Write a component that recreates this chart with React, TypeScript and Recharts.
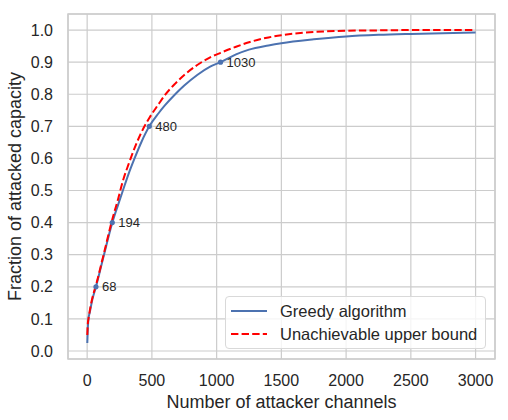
import {
  ComposedChart,
  Line,
  Scatter,
  XAxis,
  YAxis,
  CartesianGrid,
  ReferenceArea,
  Label,
} from 'recharts';

const channels = [1, 5, 10, 20, 40, 68, 130, 194, 240, 276, 320, 366, 420, 480, 550, 600, 680, 750, 850, 950, 1030, 1150, 1250, 1400, 1500, 1750, 2000, 2250, 2500, 3000];
const greedy = [0.025, 0.07, 0.1, 0.12, 0.16, 0.2, 0.3, 0.4, 0.457, 0.5, 0.552, 0.6, 0.652, 0.7, 0.74, 0.765, 0.8, 0.827, 0.86, 0.886, 0.9, 0.924, 0.939, 0.952, 0.959, 0.971, 0.98, 0.985, 0.988, 0.992];
const upperBound = [0.05, 0.085, 0.1, 0.125, 0.165, 0.205, 0.305, 0.41, 0.475, 0.53, 0.582, 0.632, 0.682, 0.726, 0.768, 0.797, 0.833, 0.86, 0.891, 0.915, 0.929, 0.948, 0.962, 0.977, 0.984, 0.994, 0.998, 0.999, 1.0, 1.0];

// annotated points on the greedy curve
const markedChannels = [68, 194, 480, 1030];
const markedFractions = [0.2, 0.4, 0.7, 0.9];

const xTicks = [0, 500, 1000, 1500, 2000, 2500, 3000];
const yTicks = [0, 0.1, 0.2, 0.3, 0.4, 0.5, 0.6, 0.7, 0.8, 0.9, 1.0];

const BLUE = '#4c72b0';
const RED = '#ff0000';
const GRID = '#cccccc';
const TEXT = '#262626';
const FONT = '"Liberation Sans", Arial, sans-serif';

const greedyData = channels.map((x, i) => ({ x, y: greedy[i] }));
const boundData = channels.map((x, i) => ({ x, y: upperBound[i] }));
const markData = markedChannels.map((x, i) => ({ x, y: markedFractions[i] }));

const MarkShape = (props: any) => (
  <g>
    <circle cx={props.cx} cy={props.cy} r={2.6} fill={BLUE} />
    <text x={props.cx + 6} y={props.cy} dy="0.35em" fontSize={13} fill={TEXT} fontFamily={FONT}>
      {props.payload.x}
    </text>
  </g>
);

export default function App() {
  return (
    <div style={{ position: 'absolute', left: 0, top: 0, width: 508, height: 420, background: '#fff', fontFamily: FONT }}>
      <ComposedChart width={508} height={420} margin={{ top: 14, right: 13, left: 0, bottom: 0 }}>
        <CartesianGrid stroke={GRID} strokeWidth={1.2} />
        <XAxis
          type="number"
          dataKey="x"
          domain={[-148, 3150]}
          ticks={xTicks}
          allowDataOverflow
          height={61}
          tickLine={false}
          axisLine={false}
          tickMargin={10}
          tick={{ fontSize: 16, fill: TEXT, fontFamily: FONT }}
        >
          <Label
            value="Number of attacker channels"
            position="insideBottom"
            offset={12}
            style={{ fontSize: 18, fill: TEXT, fontFamily: FONT }}
          />
        </XAxis>
        <YAxis
          type="number"
          domain={[-0.025, 1.05]}
          ticks={yTicks}
          allowDataOverflow
          width={68}
          tickLine={false}
          axisLine={false}
          tickMargin={9}
          tickFormatter={(v: number) => v.toFixed(1)}
          tick={{ fontSize: 16, fill: TEXT, fontFamily: FONT }}
        >
          <Label
            value="Fraction of attacked capacity"
            angle={-90}
            position="insideLeft"
            offset={15}
            style={{ fontSize: 18, fill: TEXT, fontFamily: FONT, textAnchor: 'middle' }}
          />
        </YAxis>
        <ReferenceArea
          x1={-148}
          x2={3150}
          y1={-0.025}
          y2={1.05}
          fill="none"
          stroke={GRID}
          strokeWidth={1.5}
          ifOverflow="visible"
        />
        <Line
          data={greedyData}
          dataKey="y"
          type="monotone"
          stroke={BLUE}
          strokeWidth={2}
          dot={false}
          activeDot={false}
          isAnimationActive={false}
        />
        <Line
          data={boundData}
          dataKey="y"
          type="monotone"
          stroke={RED}
          strokeWidth={2}
          strokeDasharray="7.4 3.2"
          dot={false}
          activeDot={false}
          isAnimationActive={false}
        />
        <Scatter data={markData} dataKey="y" shape={MarkShape} isAnimationActive={false} />
      </ComposedChart>
      <div
        style={{
          position: 'absolute',
          left: 225,
          top: 296,
          width: 261,
          height: 53,
          boxSizing: 'border-box',
          border: '1px solid #d9d9d9',
          borderRadius: 4,
          background: 'rgba(255,255,255,0.8)',
          fontSize: 16.5,
          color: TEXT,
        }}
      >
        {[
          { name: 'Greedy algorithm', color: BLUE, dash: undefined },
          { name: 'Unachievable upper bound', color: RED, dash: '7.4 3.2' },
        ].map((item, i) => (
          <div key={item.name} style={{ position: 'absolute', left: 0, top: 3 + i * 23.3, height: 22, display: 'flex', alignItems: 'center' }}>
            <svg width={54} height={22} style={{ display: 'block' }}>
              <line x1={5} x2={41} y1={11} y2={11} stroke={item.color} strokeWidth={2} strokeDasharray={item.dash} />
            </svg>
            <span style={{ whiteSpace: 'nowrap', lineHeight: '22px' }}>{item.name}</span>
          </div>
        ))}
      </div>
    </div>
  );
}
